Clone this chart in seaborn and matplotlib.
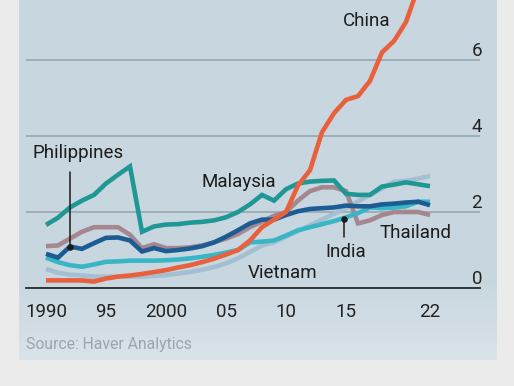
import numpy as np
import pandas as pd
import matplotlib
matplotlib.use("Agg")
import matplotlib.pyplot as plt
import seaborn as sns

# values (index, one row per year)
years = list(range(1990, 2023))
china = [0.20, 0.20, 0.20, 0.20, 0.17, 0.25, 0.30, 0.33, 0.37, 0.42, 0.47,
         0.54, 0.60, 0.68, 0.77, 0.88, 1.00, 1.25, 1.60, 1.80, 2.00, 2.70,
         3.10, 4.10, 4.60, 4.95, 5.05, 5.45, 6.20, 6.50, 7.00, 7.90, 8.80]
malaysia = [1.66, 1.85, 2.12, 2.30, 2.45, 2.75, 2.98, 3.20, 1.48, 1.62, 1.67,
            1.68, 1.72, 1.74, 1.78, 1.86, 2.00, 2.20, 2.45, 2.30, 2.60, 2.75,
            2.80, 2.82, 2.83, 2.48, 2.45, 2.45, 2.67, 2.72, 2.78, 2.73, 2.68]
thailand = [1.10, 1.12, 1.30, 1.48, 1.60, 1.60, 1.60, 1.40, 1.05, 1.15, 1.05,
            1.05, 1.07, 1.12, 1.20, 1.30, 1.42, 1.60, 1.75, 1.90, 2.00, 2.30,
            2.55, 2.65, 2.65, 2.55, 1.70, 1.78, 1.92, 2.00, 2.00, 2.00, 1.92]
philippines = [0.90, 0.80, 1.09, 1.03, 1.18, 1.32, 1.33, 1.25, 0.96, 1.05, 0.97,
               1.00, 1.04, 1.10, 1.20, 1.35, 1.52, 1.70, 1.80, 1.80, 1.92, 2.02,
               2.08, 2.10, 2.12, 2.17, 2.15, 2.15, 2.20, 2.22, 2.25, 2.27, 2.18]
india = [0.80, 0.68, 0.60, 0.56, 0.62, 0.69, 0.70, 0.72, 0.72, 0.72, 0.73,
         0.75, 0.78, 0.82, 0.87, 0.93, 1.00, 1.20, 1.22, 1.25, 1.38, 1.52,
         1.60, 1.68, 1.76, 1.86, 1.97, 2.12, 2.10, 2.12, 2.15, 2.27, 2.27]
vietnam = [0.50, 0.40, 0.35, 0.33, 0.30, 0.30, 0.30, 0.30, 0.30, 0.32, 0.34,
           0.38, 0.42, 0.48, 0.55, 0.65, 0.78, 0.95, 1.12, 1.20, 1.35, 1.50,
           1.65, 1.80, 1.95, 2.10, 2.28, 2.45, 2.62, 2.80, 2.82, 2.88, 2.95]

countries = ["Vietnam", "Thailand", "India", "Philippines", "Malaysia", "China"]
palette = {"China": "#e8603c", "Malaysia": "#1f9895", "Thailand": "#a5878f",
           "Philippines": "#1d5c93", "India": "#38b6c6", "Vietnam": "#a4bfd1"}

x_ticks = [1990, 1995, 2000, 2005, 2010, 2015, 2022]
x_labels = ["1990", "95", "2000", "05", "10", "15", "22"]
y_ticks = [0, 2, 4, 6]

df = pd.DataFrame({"year": years, "China": china, "Malaysia": malaysia,
                   "Thailand": thailand, "Philippines": philippines,
                   "India": india, "Vietnam": vietnam})
long = df.melt(id_vars="year", var_name="country", value_name="value")

sns.set_style("white")
plt.rcParams["font.family"] = ["Roboto", "DejaVu Sans"]

W, H = 514, 386
fig = plt.figure(figsize=(W / 100, H / 100), dpi=100, facecolor="#ebebeb")

# panel background with slight fade at the bottom
bg = fig.add_axes([19 / W, (H - 360) / H, 478 / W, 360 / H])
top_c = np.array(matplotlib.colors.to_rgb("#c8d7df"))
bot_c = np.array(matplotlib.colors.to_rgb("#dae3e8"))
t = np.clip((np.linspace(0, 1, 360) - 0.78) / 0.22, 0, 1)[:, None]
grad = top_c * (1 - t) + bot_c * t
bg.imshow(grad[:, None, :], aspect="auto", extent=[0, 1, 0, 1])
bg.axis("off")

ax = fig.add_axes([26 / W, (H - 288) / H, 454 / W, 288 / H])
ax.patch.set_alpha(0)
sns.lineplot(data=long, x="year", y="value", hue="country", hue_order=countries,
             palette=palette, linewidth=3.3, legend=False, ax=ax)
for ln in ax.lines:
    ln.set_solid_capstyle("butt")
    ln.set_solid_joinstyle("miter")

ax.set_xlim(1990 - 20 / 12, 2022 + 50 / 12)
ax.set_ylim(0, 288 / 38)
for s in ["top", "left", "right"]:
    ax.spines[s].set_visible(False)
ax.spines["bottom"].set_color("#2a2a2a")
ax.spines["bottom"].set_linewidth(1.3)
ax.spines["bottom"].set_zorder(5)

ax.set_xticks(x_ticks)
ax.set_xticklabels(x_labels, fontsize=13.5, color="#222222")
ax.set_xticks(years, minor=True)
ax.tick_params(axis="x", which="major", length=7, width=1.1, color="#2a2a2a",
               direction="out", pad=4)
ax.tick_params(axis="x", which="minor", length=4.5, width=1.0, color="#2a2a2a",
               direction="out")

ax.set_yticks(y_ticks)
ax.set_yticklabels([str(v) for v in y_ticks], fontsize=13.5, color="#222222")
ax.tick_params(axis="y", left=False, right=False, labelleft=False,
               labelright=True, pad=-2)
for lbl in ax.get_yticklabels():
    lbl.set_ha("right")
    lbl.set_va("bottom")
ax.grid(axis="y", color="#9aabb5", linewidth=1.3)
ax.grid(axis="x", visible=False)
ax.set_axisbelow(True)
ax.set_xlabel("")
ax.set_ylabel("")

txt = dict(fontsize=13.5, color="#1c1c1c", ha="center", va="center")
ax.text(2016.75, 7.03, "China", **txt)
ax.text(2006.1, 2.79, "Malaysia", **txt)
ax.text(2020.8, 1.45, "Thailand", **txt)
ax.text(2009.7, 0.39, "Vietnam", **txt)
ax.text(1992.65, 3.55, "Philippines", **txt)
ax.text(2015.0, 0.95, "India", **txt)

# pointer lines for Philippines and India
ph_y = philippines[years.index(1992)]
ax.plot([1992, 1992], [ph_y, 3.05], color="#1c1c1c", lw=1.1, zorder=6)
ax.scatter([1992], [ph_y], s=14, color="#1c1c1c", zorder=7)
in_y = india[years.index(2015)] - 0.04
ax.plot([2014.85, 2014.85], [in_y, 1.34], color="#1c1c1c", lw=1.1, zorder=6)
ax.scatter([2014.85], [in_y], s=14, color="#1c1c1c", zorder=7)

fig.text(26 / W, 1 - 344 / H, "Source: Haver Analytics", fontsize=11.3,
         color="#9ba4aa", ha="left", va="center")

fig.savefig("out.png", dpi=100, facecolor=fig.get_facecolor())
